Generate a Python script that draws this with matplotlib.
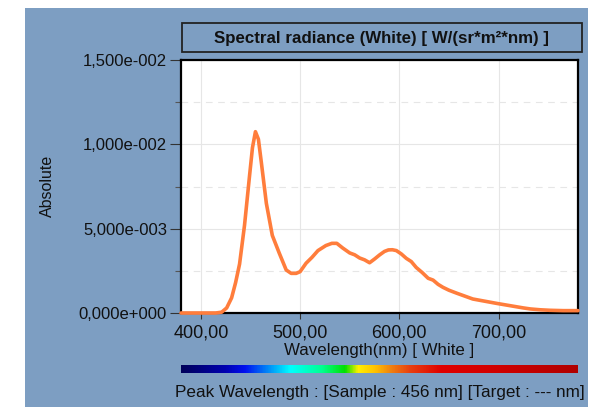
import numpy as np
import matplotlib.pyplot as plt
from matplotlib.colors import LinearSegmentedColormap
from matplotlib.patches import Rectangle
from matplotlib.ticker import FuncFormatter, MultipleLocator

# spectral radiance (W/(sr*m2*nm), x1e-3)
wavelength = [380, 400, 415, 421, 426, 431, 435, 439, 444, 449, 452, 455, 458,
              461, 466, 472, 479, 486, 491, 496, 500, 506, 512, 518, 526, 532,
              537, 543, 550, 555, 560, 565, 570, 575, 580, 585, 589, 593, 597,
              602, 607, 612, 617, 623, 629, 634, 639, 644, 650, 658, 666, 674,
              686, 698, 708, 718, 725, 732, 742, 752, 765, 780]
radiance_milli = [0, 0, 0, 0.05, 0.3, 0.9, 1.8, 2.9, 5.2, 8.1, 9.8, 10.75, 10.3,
                  8.9, 6.5, 4.6, 3.55, 2.55, 2.35, 2.35, 2.45, 2.95, 3.3, 3.7, 4.0, 4.13,
                  4.13, 3.85, 3.56, 3.45, 3.26, 3.15, 2.98, 3.2, 3.44, 3.65, 3.74, 3.75, 3.7,
                  3.5, 3.24, 3.05, 2.7, 2.4, 2.06, 1.95, 1.7, 1.52, 1.35, 1.17, 1.0, 0.83,
                  0.7, 0.57, 0.47, 0.37, 0.3, 0.24, 0.19, 0.16, 0.14, 0.14]

title = "Spectral radiance (White) [ W/(sr*m\u00b2*nm) ]"
peak_text = "Peak Wavelength : [Sample : 456 nm] [Target : --- nm]"

BG = "#7D9EC2"
W, H = 594, 407

plt.rcParams['font.family'] = ['Liberation Sans', 'DejaVu Sans']

fig = plt.figure(figsize=(W / 100, H / 100), dpi=100)
fig.patch.set_facecolor("white")

# blue panel behind everything
fig.patches.append(Rectangle((25 / W, 0), 563 / W, (H - 8) / H,
                             transform=fig.transFigure, facecolor=BG,
                             edgecolor="none", zorder=-10))

ax = fig.add_axes([181 / W, (H - 313) / H, 397 / W, 253 / H])
ax.set_facecolor("white")

x = np.array(wavelength)
y = np.array(radiance_milli) * 1e-3
ax.plot(x, y, color="#FF7D3C", lw=2.6, solid_capstyle="round",
        clip_on=False, zorder=5)

ax.set_xlim(380, 780)
ax.set_ylim(0, 0.015)
ax.xaxis.set_major_locator(MultipleLocator(100))
ax.yaxis.set_major_locator(MultipleLocator(0.005))
ax.yaxis.set_minor_locator(MultipleLocator(0.0025))

ax.xaxis.set_major_formatter(FuncFormatter(lambda v, p: f"{v:.2f}".replace(".", ",")))


def sci_fmt(v, p):
    if v == 0:
        return "0,000e+000"
    e = int(np.floor(np.log10(abs(v))))
    m = v / 10 ** e
    return f"{m:.3f}".replace(".", ",") + f"e{'+' if e >= 0 else '-'}{abs(e):03d}"


ax.yaxis.set_major_formatter(FuncFormatter(sci_fmt))

ax.grid(which="major", color="#E6E6E6", lw=0.8)
ax.grid(which="minor", axis="y", color="#E6E6E6", lw=0.8, ls=(0, (6, 5)))
ax.set_axisbelow(True)

ax.tick_params(axis="y", which="major", length=8, width=0.8, color="#333333",
               labelsize=12, pad=2, labelcolor="#111111")
ax.tick_params(axis="y", which="minor", length=4.5, width=0.8, color="#555555")
ax.tick_params(axis="x", which="major", length=4, width=0.8, color="#333333",
               labelsize=13, pad=4, labelcolor="#111111")

for s in ax.spines.values():
    s.set_color("black")
    s.set_linewidth(1.6)

fig.text(379 / W, (H - 351) / H, "Wavelength(nm) [ White ]", fontsize=12.2,
         ha="center", va="center", color="#111111")
fig.text(47 / W, (H - 186) / H, "Absolute", rotation=90, fontsize=11.5,
         ha="center", va="center", color="#111111")

# title box
fig.patches.append(Rectangle((182 / W, (H - 52) / H), 400 / W, 29 / H,
                             transform=fig.transFigure, facecolor=BG,
                             edgecolor="#222222", lw=1.3))
fig.text(382 / W, (H - 38) / H, title, fontsize=12.2, fontweight="bold",
         ha="center", va="center", color="#111111")

# spectrum colour strip
stops = [(0.0, "#00005A"), (0.11, "#0000B0"), (0.16, "#0010F0"),
         (0.275, "#00FFFF"), (0.355, "#00FF90"), (0.413, "#00E000"),
         (0.446, "#FFF000"), (0.49, "#FFC000"), (0.53, "#F08010"),
         (0.577, "#E84010"), (0.657, "#E00000"), (0.8, "#D00000"),
         (1.0, "#B00000")]
cmap = LinearSegmentedColormap.from_list("spectrum", stops)
cax = fig.add_axes([181 / W, (H - 373) / H, 397 / W, 8 / H])
cax.imshow(np.linspace(0, 1, 512)[None, :], aspect="auto", cmap=cmap)
cax.set_axis_off()

fig.text(585 / W, (H - 392) / H, peak_text, fontsize=12.3, ha="right",
         va="center", color="#111111")

fig.savefig("out.png", dpi=100)
